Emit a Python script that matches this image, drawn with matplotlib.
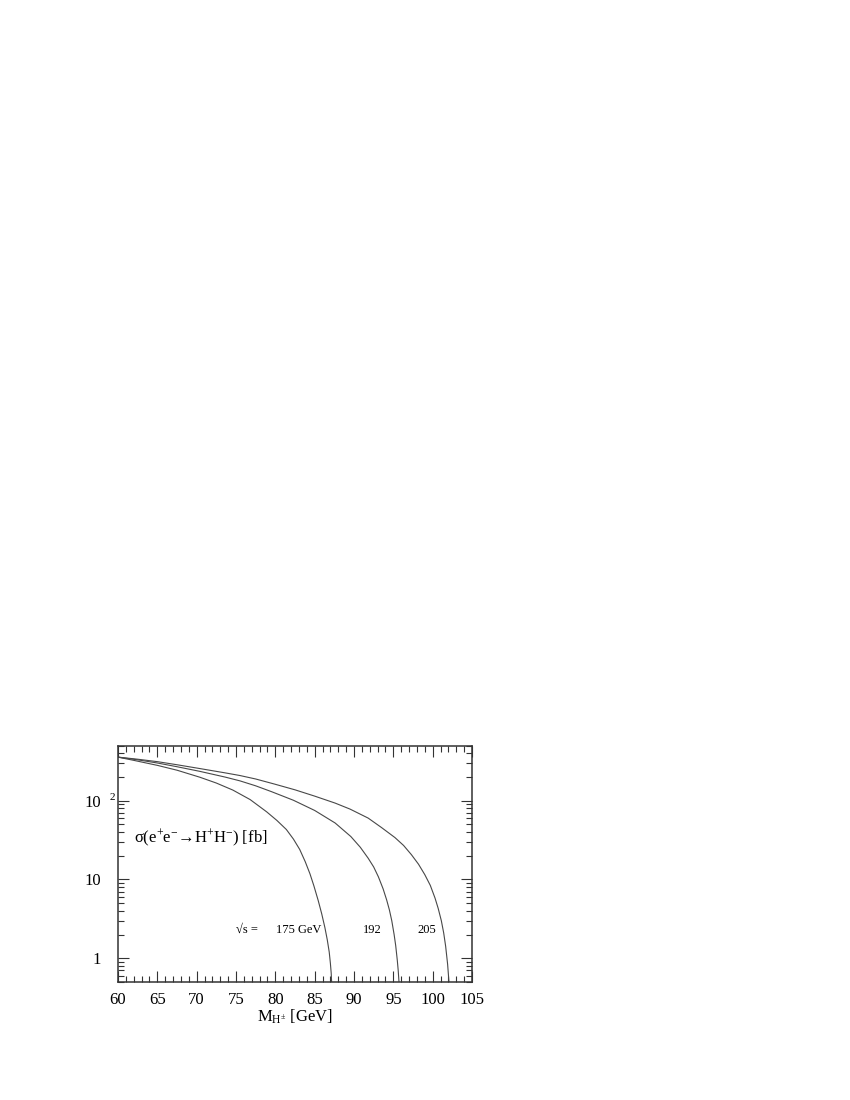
import numpy as np
import matplotlib
matplotlib.use('Agg')
import matplotlib.pyplot as plt
from matplotlib.ticker import LogLocator, NullFormatter, FixedLocator, MultipleLocator

plt.rcParams['font.family'] = ['Liberation Serif', 'DejaVu Serif']
plt.rcParams['mathtext.fontset'] = 'custom'
plt.rcParams['mathtext.rm'] = 'Liberation Serif'
plt.rcParams['mathtext.it'] = 'Liberation Serif:italic'

# charged Higgs mass [GeV] vs cross section [fb]
m_175 = [60, 62, 65, 67.5, 70.4, 72.5, 74.6, 76.8, 78.9, 80.2, 81.4, 82.3, 83.1,
         83.8, 84.4, 84.9, 85.45, 85.9, 86.3, 86.6, 86.85, 87.0, 87.1, 87.18]
s_175 = [356, 324, 280, 243, 198, 167, 136, 103, 72, 56, 43, 32.5, 24,
         16.8, 11.8, 8.3, 5.4, 3.65, 2.45, 1.72, 1.2, 0.86, 0.65, 0.45]

m_192 = [60, 62.5, 65, 67.5, 70.4, 73.6, 75.5, 77.5, 79.5, 82.3, 85, 87.6, 89.6,
         90.8, 91.8, 92.5, 93.1, 93.7, 94.15, 94.5, 94.8, 95.1, 95.3, 95.5,
         95.62, 95.75]
s_192 = [356, 329, 300, 269, 235, 199, 178, 154, 130, 101, 75, 52, 35,
         25.6, 18.6, 14.4, 10.8, 7.6, 5.5, 4.1, 3.0, 2.0, 1.45, 0.95,
         0.7, 0.45]

m_205 = [60, 62.5, 65, 67.5, 70.4, 73.6, 75.5, 77.5, 79.9, 82.5, 85, 87.6, 89.5,
         91.8, 93.5, 95.2, 96.3, 97.3, 98.2, 99.0, 99.7, 100.3, 100.7, 101.1,
         101.4, 101.65, 101.9, 102.1, 102.2]
s_205 = [356, 335, 312, 285, 255, 225, 208, 188, 162, 137, 114, 93, 78,
         60, 45.5, 34, 27, 20.6, 15.6, 11.5, 8.4, 5.8, 4.3, 3.0,
         2.1, 1.42, 0.84, 0.46, 0.3]

curve_labels = ['175 GeV', '192', '205']
label_x = [299, 372.5, 426.5]     # label centres in figure pixels
xticks = [60, 65, 70, 75, 80, 85, 90, 95, 100, 105]
yticks = [1, 10, 100]

fig = plt.figure(figsize=(8.5, 11), dpi=100)
ax = fig.add_axes([118/850, 1 - 982/1100, (472 - 118)/850, (982 - 745.5)/1100])

for m, s in [(m_175, s_175), (m_192, s_192), (m_205, s_205)]:
    ax.plot(m, s, color='#484848', lw=0.8)

ax.set_yscale('log')
ax.set_xlim(60, 105)
ax.set_ylim(0.5, 500)

ax.xaxis.set_major_locator(FixedLocator(xticks))
ax.xaxis.set_minor_locator(MultipleLocator(1))
ax.yaxis.set_major_locator(FixedLocator(yticks))
ax.yaxis.set_minor_locator(LogLocator(base=10, subs=np.arange(2, 10)))
ax.yaxis.set_minor_formatter(NullFormatter())
ax.set_xticklabels([str(t) for t in xticks])
ax.set_yticklabels(['1', '10', '10'])

ax.tick_params(which='both', direction='in', top=True, right=True, width=0.8, color='#333333')
ax.tick_params(which='major', length=8)
ax.tick_params(which='minor', length=4)
ax.tick_params(axis='x', labelsize=12, pad=7)
ax.tick_params(axis='y', labelsize=12, pad=12)
for sp in ax.spines.values():
    sp.set_linewidth(1.1)
    sp.set_color('#333333')

# exponent of the 10^2 label
ax.annotate('2', xy=(0, 100), xycoords=('axes fraction', 'data'),
            xytext=(-4, 2), textcoords='offset points',
            ha='center', va='center', fontsize=8)

ax.set_xlabel(r'M$_{\mathrm{H^{\pm}}}$ [GeV]', fontsize=12, labelpad=0)

fig.text(134/850, 1 - 838/1100, 'σ(e$^{+}$e$^{-}$→H$^{+}$H$^{-}$) [fb]',
         fontsize=12, va='center', ha='left')

fig.text(236/850, 1 - 930/1100, '√s =', fontsize=9, va='center', ha='left')
for lab, xc in zip(curve_labels, label_x):
    fig.text(xc/850, 1 - 930/1100, lab, fontsize=9, va='center', ha='center')

fig.savefig('out.png', dpi=100)
